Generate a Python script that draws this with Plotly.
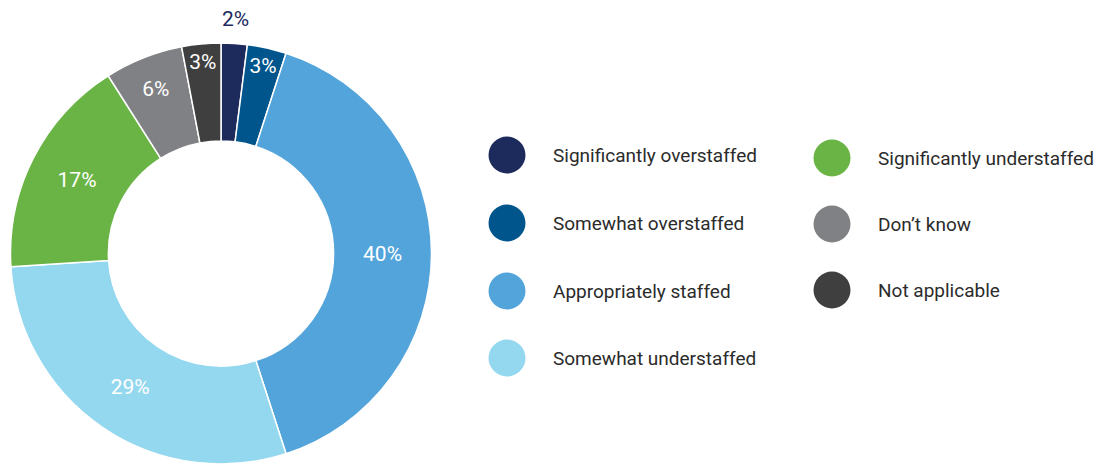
import plotly.graph_objects as go

categories = ["Significantly overstaffed", "Somewhat overstaffed", "Appropriately staffed",
              "Somewhat understaffed", "Significantly understaffed", "Don\u2019t know", "Not applicable"]
values = [2, 3, 40, 29, 17, 6, 3]
colors = ["#1c2a5c", "#00558c", "#52a4db", "#94d8ef", "#69b445", "#808184", "#3f3f3f"]

# legend layout: column / row assignment
legend_col = [0, 0, 0, 0, 1, 1, 1]
legend_row = [0, 1, 2, 3, 0, 1, 2]

W, H = 1100, 464
fig = go.Figure()

labels_txt = [f"{v}%" for v in values]
fig.add_trace(go.Pie(
    labels=categories, values=values, sort=False, direction="clockwise", rotation=0,
    hole=0.535,
    marker=dict(colors=colors, line=dict(color="white", width=1.5)),
    text=[""] + labels_txt[1:], textinfo="text",
    textposition=["none"] + ["inside"] * 6,
    insidetextorientation="horizontal",
    insidetextfont=dict(color="white", size=21, family="Roboto"),
    domain=dict(x=[9 / W, 433 / W], y=[0.0, (H - 43) / H]),
    showlegend=False, hoverinfo="label+percent",
))

# outside label for the small first slice
fig.add_annotation(x=235, y=19, xref="x", yref="y", text=labels_txt[0], showarrow=False,
                   font=dict(family="Roboto", size=21, color="#1c2a5c"))

col_x = [507, 832]
row_y = [[155, 223, 291, 358], [158, 224, 290]]
lx, ly = [], []
for c, r in zip(legend_col, legend_row):
    lx.append(col_x[c])
    ly.append(row_y[c][r])

fig.add_trace(go.Scatter(
    x=lx, y=ly, mode="markers", marker=dict(size=37, color=colors, line=dict(width=0)),
    showlegend=False, hoverinfo="skip", xaxis="x", yaxis="y",
))
for name, x, y in zip(categories, lx, ly):
    fig.add_annotation(x=x + 44, y=y, xref="x", yref="y", text=name, showarrow=False,
                       xanchor="left", yanchor="middle",
                       font=dict(family="Roboto", size=19, color="#2b2b2b"))

fig.update_layout(
    width=W, height=H, margin=dict(l=0, r=0, t=0, b=0),
    paper_bgcolor="white", plot_bgcolor="rgba(0,0,0,0)",
    xaxis=dict(range=[0, W], visible=False, domain=[0, 1], fixedrange=True),
    yaxis=dict(range=[H, 0], visible=False, domain=[0, 1], fixedrange=True),
    font=dict(family="Roboto"),
)
fig.write_html("out.html")
